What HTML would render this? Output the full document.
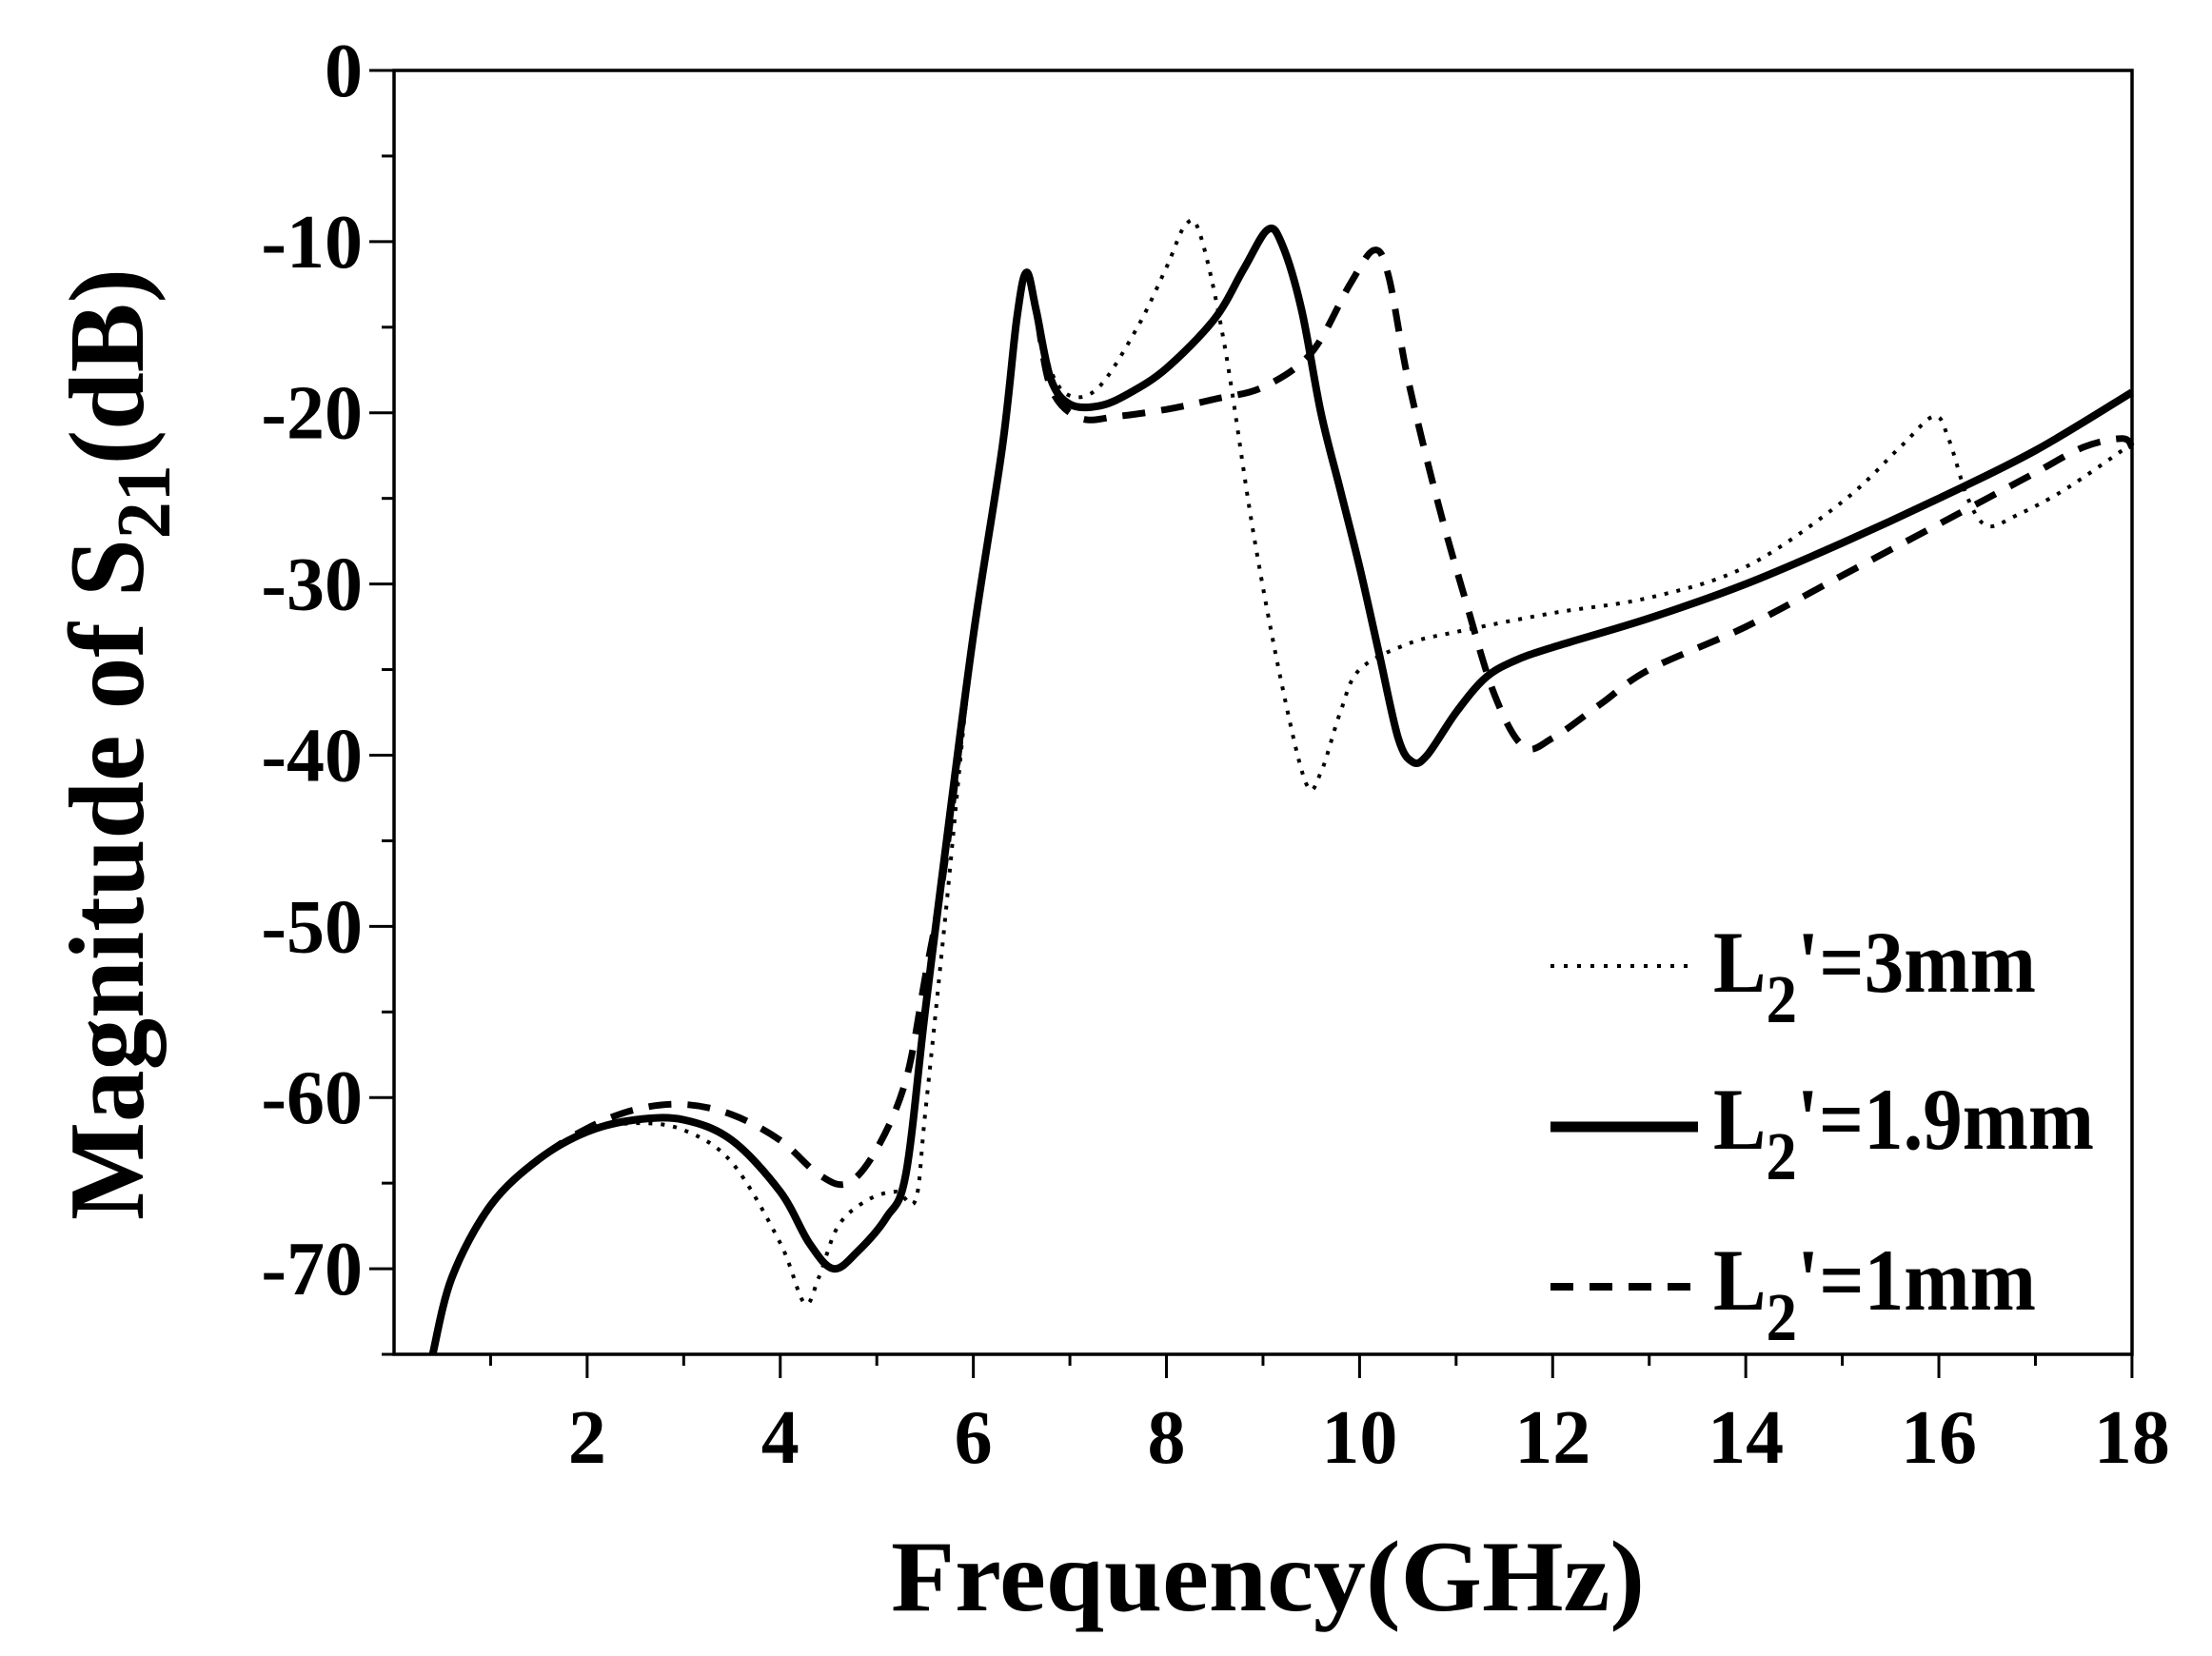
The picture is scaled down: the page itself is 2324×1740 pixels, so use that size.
<!DOCTYPE html>
<html><head><meta charset="utf-8"><style>
html,body{margin:0;padding:0;background:#fff;}
svg{display:block;}
text{font-family:"Liberation Serif",serif;font-weight:bold;fill:#000;}
</style></head><body>
<svg id="s" width="2324" height="1740" viewBox="0 0 2324 1740" xmlns="http://www.w3.org/2000/svg">
<rect x="0" y="0" width="2324" height="1740" fill="#fff"/>
<g id="ticks" stroke="#000" stroke-width="3"></g>
<g id="curves" fill="none" stroke="#000" stroke-linejoin="round"></g>
<rect x="414" y="74" width="1826" height="1349" fill="none" stroke="#000" stroke-width="3.5"/>
<g id="labels" font-size="80"></g>
<text x="112" y="782" font-size="112" text-anchor="middle" textLength="1000" lengthAdjust="spacingAndGlyphs" transform="rotate(-90 112 782)" dy="38">Magnitude of S<tspan font-size="80" dy="28">21</tspan><tspan dy="-28">(dB)</tspan></text>
<text x="1332" y="1692" font-size="106" text-anchor="middle" textLength="792" lengthAdjust="spacingAndGlyphs">Frequency(GHz)</text>
<line x1="1629" y1="1015" x2="1773" y2="1015" stroke="#000" stroke-width="4" stroke-dasharray="4 10"/>
<line x1="1629" y1="1184" x2="1784" y2="1184" stroke="#000" stroke-width="11"/>
<line x1="1629" y1="1352" x2="1784" y2="1352" stroke="#000" stroke-width="8" stroke-dasharray="24 17"/>
<text x="1800" y="1042" font-size="92" textLength="339" lengthAdjust="spacingAndGlyphs">L<tspan font-size="72" dy="32">2</tspan><tspan dy="-32">'=3mm</tspan></text>
<text x="1800" y="1207" font-size="92" textLength="400" lengthAdjust="spacingAndGlyphs">L<tspan font-size="72" dy="32">2</tspan><tspan dy="-32">'=1.9mm</tspan></text>
<text x="1800" y="1376" font-size="92" textLength="339" lengthAdjust="spacingAndGlyphs">L<tspan font-size="72" dy="32">2</tspan><tspan dy="-32">'=1mm</tspan></text>
</svg>
<script>
var NS="http://www.w3.org/2000/svg";
function X(f){return 414+101.44*f;}
function Y(d){return 74-17.987*d;}
function el(p,n,a){var e=document.createElementNS(NS,n);for(var k in a)e.setAttribute(k,a[k]);p.appendChild(e);return e;}
var T=document.getElementById('ticks'),L=document.getElementById('labels'),C=document.getElementById('curves');
for(var f=1;f<=18;f++){var maj=f%2==0;el(T,'line',{x1:X(f),y1:1423,x2:X(f),y2:1423+(maj?25:12)});
 if(maj){var t=el(L,'text',{x:X(f),y:1537,'text-anchor':'middle'});t.textContent=f;}}
for(var d=0;d>=-75;d-=5){var maj=d%10==0;el(T,'line',{x1:414,y1:Y(d),x2:414-(maj?26:13),y2:Y(d)});
 if(maj){var t=el(L,'text',{x:381,y:Y(d)+27,'text-anchor':'end'});t.textContent=(d==0?'0':'-'+(-d));}}
var common=[[0.4,-75],[0.6,-70.5],[1,-66.3],[1.5,-63.6],[2,-62]];
var rise=[[5.7,-46],[6,-33],[6.3,-22],[6.45,-14.5],[6.55,-11.8],[6.65,-14]];
var solid=common.concat([[2.5,-61.3],[3,-61.3],[3.5,-62.5],[4,-65.5],[4.3,-68.5],[4.55,-70],[4.8,-69],[5.1,-67],[5.3,-64.5],[5.5,-55]],rise,[[6.8,-18],[7,-19.5],[7.3,-19.6],[7.6,-18.9],[8,-17.4],[8.5,-14.5],[8.8,-11.6],[9.05,-9.3],[9.2,-10.2],[9.4,-14],[9.6,-20],[9.8,-24.5],[10,-29],[10.2,-34],[10.4,-39],[10.55,-40.4],[10.7,-40],[11,-37.5],[11.3,-35.5],[11.6,-34.5],[12,-33.7],[13,-32],[14,-30],[15,-27.6],[16,-25],[17,-22.2],[18,-18.8]]);
var dotted=common.concat([[2.5,-61.5],[3,-61.9],[3.5,-63.8],[4,-68.5],[4.25,-72],[4.4,-70.5],[4.6,-67.5],[4.9,-66],[5.2,-65.5],[5.4,-66],[5.5,-61],[5.7,-50],[6,-33],[6.3,-22],[6.45,-14.5],[6.55,-12],[6.65,-14],[6.8,-17.5],[7,-19],[7.3,-18.5],[7.7,-15],[8,-11.5],[8.2,-9],[8.35,-9.6],[8.6,-16],[8.9,-27],[9.2,-36],[9.45,-41.7],[9.6,-41],[9.8,-37.5],[10,-35],[10.5,-33.5],[11,-32.8],[12,-31.7],[13,-30.8],[14,-29],[15,-25.2],[15.6,-22],[15.95,-20.2],[16.1,-21.5],[16.3,-25],[16.5,-26.6],[16.8,-26],[17.3,-24.5],[18,-21.8]]);
var dashed=common.slice(0,4).concat([[2,-61.8],[2.5,-60.7],[3,-60.4],[3.5,-61],[4,-62.5],[4.4,-64.5],[4.7,-65],[5,-63],[5.3,-59],[5.5,-53],[5.7,-46.5]],rise.slice(1),[[6.8,-18.5],[7.1,-20.3],[7.5,-20.2],[8,-19.8],[8.5,-19.2],[9,-18.5],[9.5,-16.5],[9.9,-12.5],[10.15,-10.5],[10.3,-12],[10.5,-18],[10.8,-25],[11.1,-31],[11.4,-36.5],[11.7,-39.5],[12,-39],[12.5,-37],[13,-35],[14,-32.5],[15,-29.5],[16,-26.5],[16.5,-25],[17,-23.5],[17.5,-22],[17.9,-21.5],[18,-22]]);
function path(pts){var P=pts.map(function(p){return [X(p[0]),Y(p[1])];});var s='M'+P[0][0]+' '+P[0][1];
 for(var i=0;i<P.length-1;i++){var p0=P[i-1]||P[i],p1=P[i],p2=P[i+1],p3=P[i+2]||p2;
  var c1=[p1[0]+(p2[0]-p0[0])/6,p1[1]+(p2[1]-p0[1])/6],c2=[p2[0]-(p3[0]-p1[0])/6,p2[1]-(p3[1]-p1[1])/6];
  s+=' C'+c1[0]+' '+c1[1]+' '+c2[0]+' '+c2[1]+' '+p2[0]+' '+p2[1];}return s;}
el(C,'path',{d:path(dotted),'stroke-width':4,'stroke-dasharray':'4 9'});
el(C,'path',{d:path(dashed),'stroke-width':7,'stroke-dasharray':'24 17'});
el(C,'path',{d:path(solid),'stroke-width':8});
</script>
</body></html>
